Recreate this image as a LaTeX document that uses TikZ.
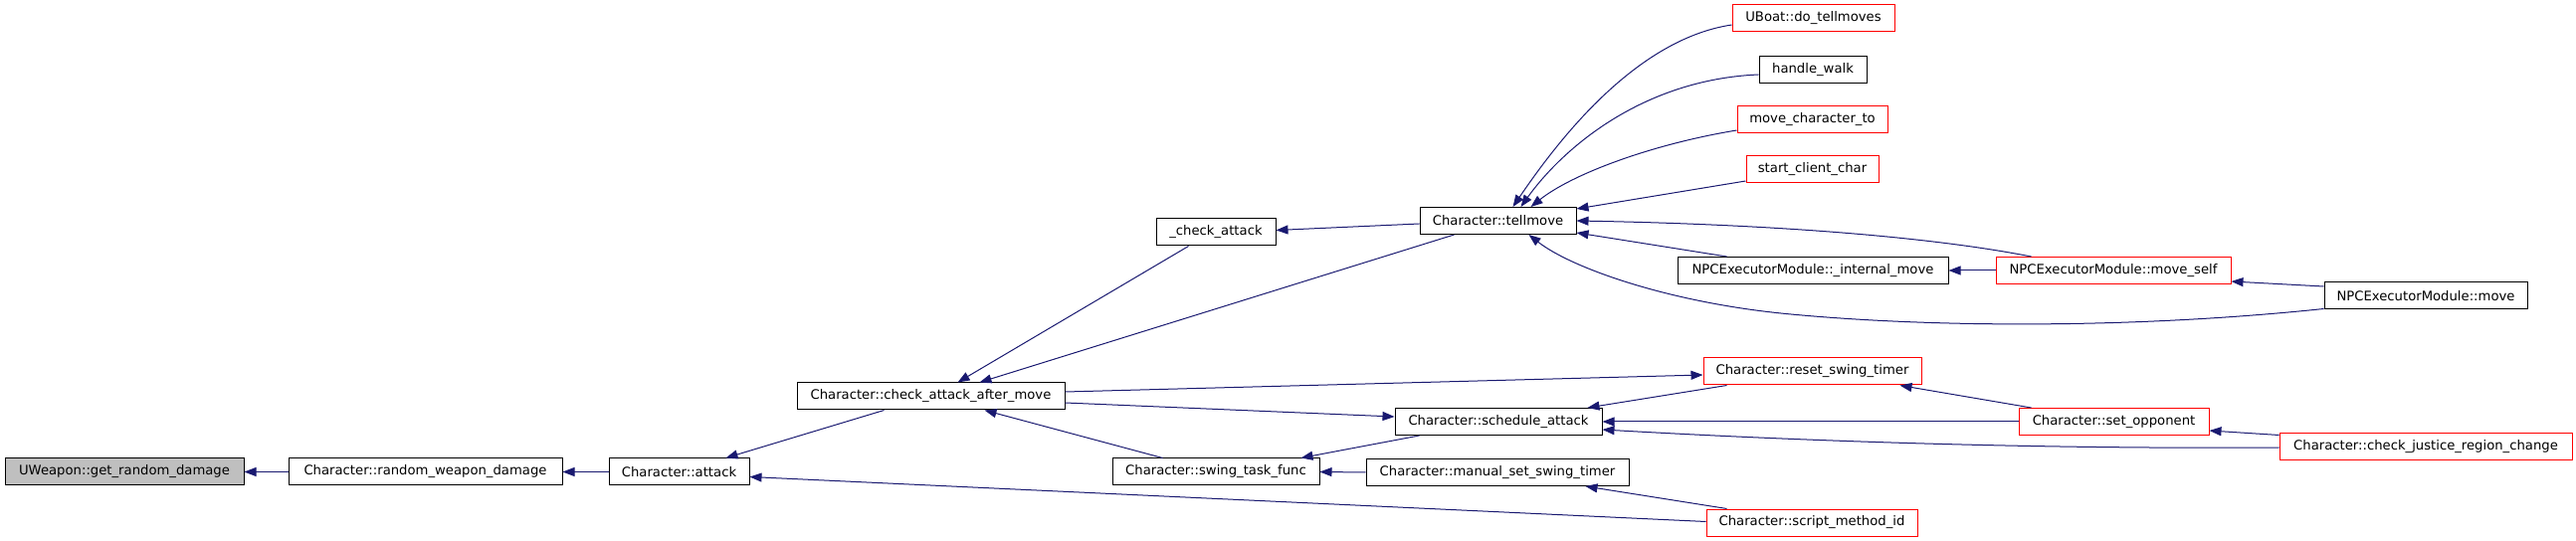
\documentclass[tikz,border=0pt]{standalone}
\usepackage{fontspec}
\newfontfamily\dvs{DejaVu Sans}
\usetikzlibrary{arrows.meta,calc}
\definecolor{edgeblue}{HTML}{191970}
\definecolor{boxgray}{HTML}{BFBFBF}
\begin{document}
\begin{tikzpicture}[x=0.5pt,y=-0.5pt,
  box/.style={draw=black, line width=0.5pt, inner sep=0pt, minimum height=13.5pt, fill=white,
    font=\dvs\fontsize{6.6pt}{8pt}\selectfont},
  redbox/.style={box, draw=red},
  graybox/.style={box, fill=boxgray},
  edge/.style={draw=edgeblue, line width=0.5pt, -{Triangle[length=6pt,width=4.5pt]}}
]
\useasboundingbox (0,0) rectangle (2589,544);

% nodes
\node[graybox, minimum width=120pt]  (uw)   at (125,474.5)   {UWeapon::get\_random\_damage};
\node[box, minimum width=137.5pt]    (rwd)  at (427.5,474.5) {Character::random\_weapon\_damage};
\node[box, minimum width=70.5pt]     (att)  at (682.5,474.5) {Character::attack};
\node[box, minimum width=134.5pt]    (cam)  at (935.5,398.5) {Character::check\_attack\_after\_move};
\node[box, minimum width=60pt]       (ca)   at (1222,233.5)  {\_check\_attack};
\node[box, minimum width=104pt]      (stf)  at (1222,474.5)  {Character::swing\_task\_func};
\node[box, minimum width=78.5pt]     (tm)   at (1505.5,222)  {Character::tellmove};
\node[box, minimum width=104pt]      (sa)   at (1506,424)    {Character::schedule\_attack};
\node[box, minimum width=132pt]      (msst) at (1505,475)    {Character::manual\_set\_swing\_timer};
\node[redbox, minimum width=81.5pt]  (ub)   at (1822.5,18.5) {UBoat::do\_tellmoves};
\node[box, minimum width=54pt]       (hw)   at (1822,70)     {handle\_walk};
\node[redbox, minimum width=75.5pt]  (mct)  at (1821.5,120)  {move\_character\_to};
\node[redbox, minimum width=66.5pt]  (scc)  at (1821.5,170.5){start\_client\_char};
\node[box, minimum width=136pt]      (im)   at (1822,272)    {NPCExecutorModule::\_internal\_move};
\node[redbox, minimum width=118pt]   (ms)   at (2124,272)    {NPCExecutorModule::move\_self};
\node[box, minimum width=102pt]      (mv)   at (2438,297.5)  {NPCExecutorModule::move};
\node[redbox, minimum width=109.5pt] (rst)  at (1821.5,373.5){Character::reset\_swing\_timer};
\node[redbox, minimum width=95.5pt]  (so)   at (2124.5,424)  {Character::set\_opponent};
\node[redbox, minimum width=147pt]   (cjrc) at (2438,449.5)  {Character::check\_justice\_region\_change};
\node[redbox, minimum width=106pt]   (smi)  at (1821,525.5)  {Character::script\_method\_id};

% edges
\draw[edge] (rwd.west) -- (uw.east);
\draw[edge] (att.west) -- (rwd.east);
\draw[edge] ($(cam.south west)+(88,0)$) -- ($(att.north west)+(118,0)$);
\draw[edge] ($(smi.west)+(0,-1)$) -- ($(att.east)+(0,5)$);
\draw[edge] ($(ca.south west)+(33,0)$) -- ($(cam.north west)+(162,0)$);
\draw[edge] ($(tm.south west)+(35,0)$) -- ($(cam.north west)+(184,0)$);
\draw[edge] ($(stf.north west)+(51,0)$) -- ($(cam.south west)+(189,0)$);
\draw[edge] ($(tm.west)+(0,3)$) -- ($(ca.east)+(0,-2)$);
\draw[edge] ($(cam.east)+(0,-4.5)$) -- ($(rst.west)+(0,3.5)$);
\draw[edge] ($(cam.east)+(0,6.5)$) -- ($(sa.west)+(0,-5)$);
\draw[edge] ($(sa.south west)+(25,0)$) -- ($(stf.north east)+(-19,0)$);
\draw[edge] (msst.west) -- (stf.east);
\draw[edge] ($(ub.west)+(0,6.5)$) .. controls (1640,40) and (1560,150) .. ($(tm.north west)+(94,0)$);
\draw[edge] ($(hw.west)+(0,5)$) .. controls (1650,80) and (1570,150) .. ($(tm.north west)+(102,0)$);
\draw[edge] ($(mct.west)+(0,11)$) .. controls (1660,145) and (1580,175) .. ($(tm.north west)+(112,0)$);
\draw[edge] ($(scc.west)+(0,11.5)$) -- ($(tm.north east)+(0,2)$);
\draw[edge] ($(ms.north west)+(36,0)$) .. controls (1950,240) and (1800,226) .. (tm.east);
\draw[edge] ($(im.north west)+(50,0)$) -- ($(tm.east)+(0,12)$);
\draw[edge] ($(mv.west)+(0,13)$) .. controls (2150,330) and (1950,330) .. (1800,316)
            .. controls (1680,305) and (1580,270) .. ($(tm.south west)+(110,0)$);
\draw[edge] (ms.west) -- (im.east);
\draw[edge] ($(mv.west)+(0,-9.5)$) -- ($(ms.east)+(0,11)$);
\draw[edge] ($(rst.south west)+(24,0)$) -- ($(sa.north east)+(-15,0)$);
\draw[edge] ($(so.north west)+(13,0)$) -- ($(rst.south east)+(-22,0)$);
\draw[edge] (so.west) -- (sa.east);
\draw[edge] ($(cjrc.west)+(0,0.5)$) .. controls (2000,452) and (1750,440) .. ($(sa.east)+(0,8)$);
\draw[edge] ($(cjrc.west)+(0,-12)$) -- ($(so.east)+(0,9)$);
\draw[edge] ($(smi.north west)+(21,0)$) -- ($(msst.south east)+(-44,0)$);
\end{tikzpicture}
\end{document}
